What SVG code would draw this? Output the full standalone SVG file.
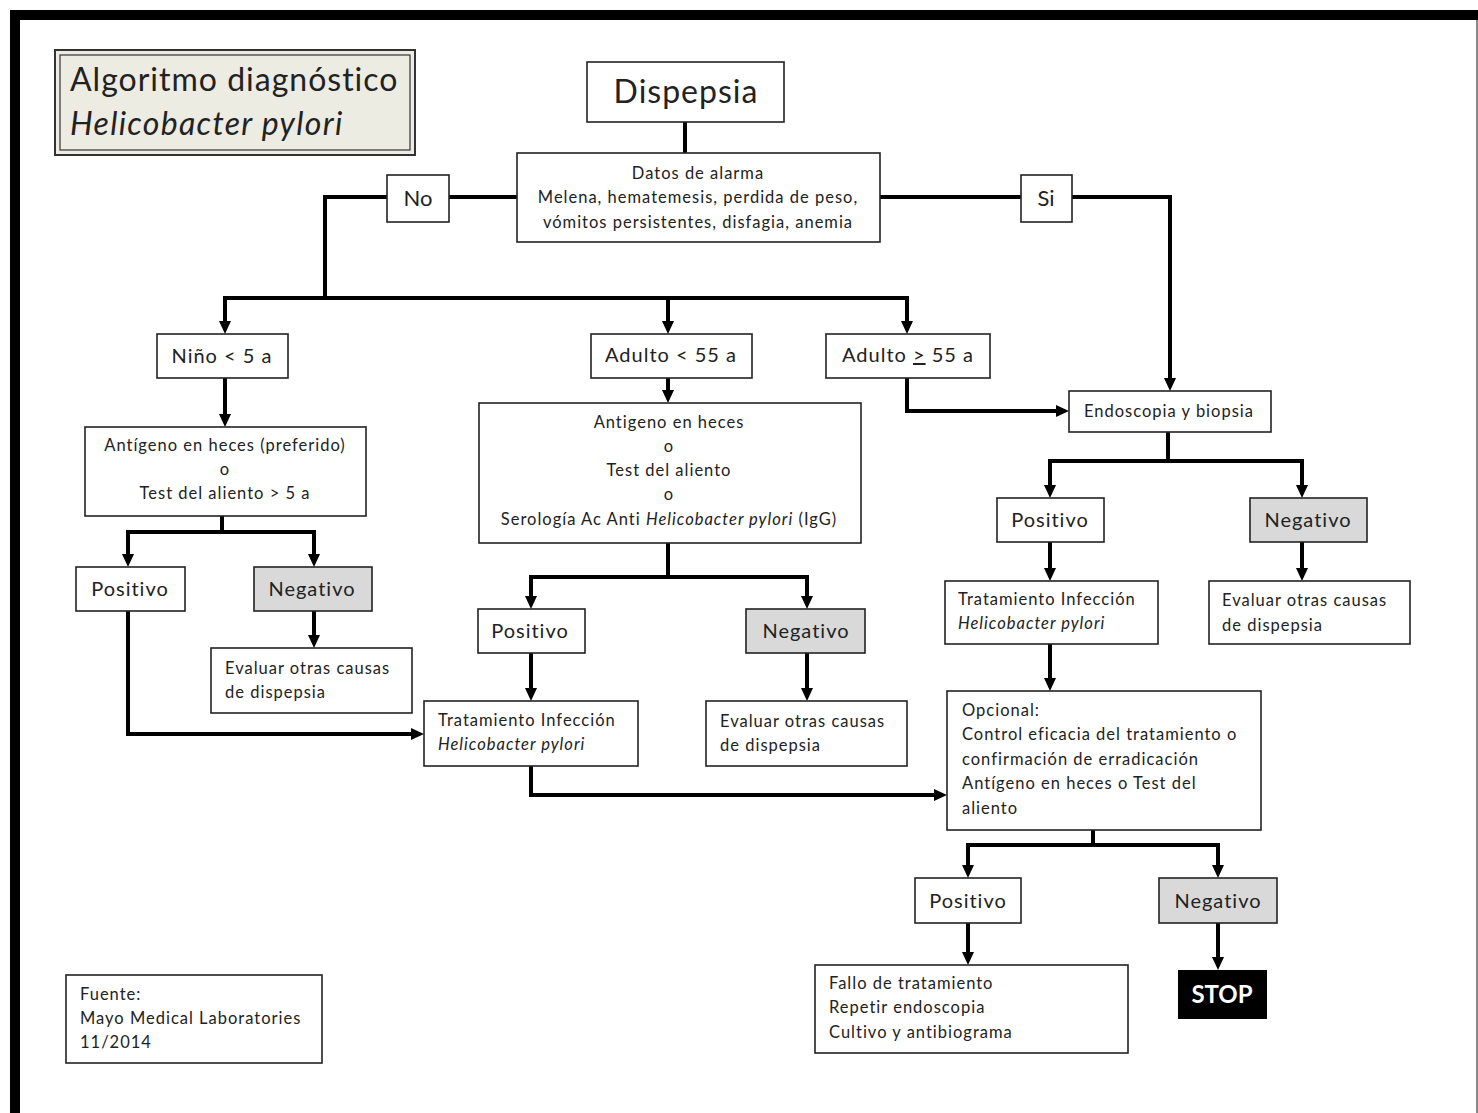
<svg xmlns="http://www.w3.org/2000/svg" width="1478" height="1113" viewBox="0 0 1478 1113">
<style>
.bx{fill:#fff;stroke:#222;stroke-width:1.6}
.gy{fill:#d9d9d9;stroke:#222;stroke-width:1.6}
.t{font-family:Lato,"Open Sans","Liberation Sans",sans-serif;fill:#222}
.s{font-size:16.5px;letter-spacing:1px}
.m{font-size:20px;letter-spacing:1px}
.c{text-anchor:middle}
.cn{fill:none;stroke:#000;stroke-width:4;stroke-linejoin:miter}
.ar{marker-end:url(#ah)}
</style>
<defs>
<marker id="ah" markerUnits="userSpaceOnUse" markerWidth="14" markerHeight="14" viewBox="0 0 14 14" refX="5" refY="7" orient="auto">
<path d="M0,1 L13,7 L0,13 z" fill="#000"/>
</marker>
</defs>
<rect x="0" y="0" width="1478" height="1113" fill="#fff"/>
<g id="frame">
<path d="M10,15 H1478" stroke="#000" stroke-width="10"/>
<path d="M15,10 V1113" stroke="#000" stroke-width="10"/>
<path d="M1477,20 V1113" stroke="#888" stroke-width="2"/>
</g>
<g id="connectors">
<path class="cn" d="M685,122 V153"/>
<path class="cn" d="M517,197 H449"/>
<path class="cn" d="M387,197 H325 V298"/>
<path class="cn ar" d="M325,298 H225 V326"/>
<path class="cn ar" d="M325,298 H907 V326"/>
<path class="cn ar" d="M668,298 V326"/>
<path class="cn" d="M880,197 H1021"/>
<path class="cn ar" d="M1072,197 H1170 V383"/>
<path class="cn ar" d="M225,378 V419"/>
<path class="cn" d="M222,516 V532"/>
<path class="cn ar" d="M222,532 H128 V559"/>
<path class="cn ar" d="M222,532 H314 V559"/>
<path class="cn ar" d="M314,611 V640"/>
<path class="cn ar" d="M128,611 V734 H416"/>
<path class="cn ar" d="M668,378 V395"/>
<path class="cn" d="M668,543 V577"/>
<path class="cn ar" d="M668,577 H531 V601"/>
<path class="cn ar" d="M668,577 H807 V601"/>
<path class="cn ar" d="M531,653 V693"/>
<path class="cn ar" d="M807,653 V693"/>
<path class="cn ar" d="M531,766 V795 H939"/>
<path class="cn ar" d="M907,378 V411 H1061"/>
<path class="cn" d="M1168,432 V461"/>
<path class="cn ar" d="M1168,461 H1050 V490"/>
<path class="cn ar" d="M1168,461 H1302 V490"/>
<path class="cn ar" d="M1050,542 V573"/>
<path class="cn ar" d="M1302,542 V573"/>
<path class="cn ar" d="M1050,644 V683"/>
<path class="cn" d="M1093,830 V845"/>
<path class="cn ar" d="M1093,845 H968 V870"/>
<path class="cn ar" d="M1093,845 H1218 V870"/>
<path class="cn ar" d="M968,923 V957"/>
<path class="cn ar" d="M1218,923 V962"/>
</g>
<g id="title">
<rect x="55" y="50" width="360" height="105" fill="#edece2" stroke="#333" stroke-width="2"/>
<rect x="60" y="55" width="350" height="95" fill="none" stroke="#333" stroke-width="1.2"/>
<text class="t" x="70" y="91" font-size="32" letter-spacing="1">Algoritmo diagnóstico</text>
<text class="t" x="70" y="135" font-size="32" font-style="italic" letter-spacing="1.3">Helicobacter pylori</text>
</g>
<g id="dispepsia">
<rect class="bx" x="587" y="62" width="197" height="60"/>
<text class="t c" x="686" y="103" font-size="32" letter-spacing="1">Dispepsia</text>
</g>
<g id="alarma">
<rect class="bx" x="517" y="153" width="363" height="89"/>
<text class="t s c" x="698" y="179">Datos de alarma</text>
<text class="t s c" x="698" y="203">Melena, hematemesis,  perdida de peso,</text>
<text class="t s c" x="698" y="228">vómitos persistentes, disfagia, anemia</text>
</g>
<g id="no">
<rect class="bx" x="387" y="175" width="62" height="47"/>
<text class="t c" x="418" y="206" font-size="22">No</text>
</g>
<g id="si">
<rect class="bx" x="1021" y="175" width="51" height="47"/>
<text class="t c" x="1046" y="206" font-size="22">Si</text>
</g>
<g id="nino">
<rect class="bx" x="157" y="334" width="131" height="44"/>
<text class="t m c" x="222" y="363">Niño &lt; 5 a</text>
</g>
<g id="adulto55">
<rect class="bx" x="591" y="334" width="161" height="44"/>
<text class="t m c" x="671" y="362">Adulto &lt; 55 a</text>
</g>
<g id="adultoge55">
<rect class="bx" x="826" y="334" width="164" height="44"/>
<text class="t m c" x="908" y="362">Adulto <tspan text-decoration="underline">&gt;</tspan> 55 a</text>
</g>
<g id="antigeno-nino">
<rect class="bx" x="85" y="427" width="281" height="89"/>
<text class="t s c" x="225" y="451">Antígeno  en  heces (preferido)</text>
<text class="t s c" x="225" y="475">o</text>
<text class="t s c" x="225" y="499">Test del aliento &gt; 5 a</text>
</g>
<g id="pos-nino">
<rect class="bx" x="76" y="567" width="109" height="44"/>
<text class="t m c" x="130" y="596">Positivo</text>
</g>
<g id="neg-nino">
<rect class="gy" x="254" y="567" width="118" height="44"/>
<text class="t m c" x="312" y="596">Negativo</text>
</g>
<g id="evaluar-nino">
<rect class="bx" x="211" y="648" width="201" height="65"/>
<text class="t s" x="225" y="674">Evaluar otras causas</text>
<text class="t s" x="225" y="698">de  dispepsia</text>
</g>
<g id="antigeno-adulto">
<rect class="bx" x="479" y="403" width="382" height="140"/>
<text class="t s c" x="669" y="428">Antigeno  en heces</text>
<text class="t s c" x="669" y="452">o</text>
<text class="t s c" x="669" y="476">Test del aliento</text>
<text class="t s c" x="669" y="500">o</text>
<text class="t s c" x="669" y="525">Serología Ac Anti <tspan font-style="italic">Helicobacter pylori</tspan> (IgG)</text>
</g>
<g id="pos-adulto">
<rect class="bx" x="478" y="609" width="107" height="44"/>
<text class="t m c" x="530" y="638">Positivo</text>
</g>
<g id="neg-adulto">
<rect class="gy" x="746" y="609" width="119" height="44"/>
<text class="t m c" x="806" y="638">Negativo</text>
</g>
<g id="tratamiento-adulto">
<rect class="bx" x="424" y="701" width="214" height="65"/>
<text class="t s" x="438" y="726">Tratamiento Infección</text>
<text class="t s" x="438" y="750" font-style="italic">Helicobacter pylori</text>
</g>
<g id="evaluar-adulto">
<rect class="bx" x="706" y="701" width="201" height="65"/>
<text class="t s" x="720" y="727">Evaluar otras causas</text>
<text class="t s" x="720" y="751">de dispepsia</text>
</g>
<g id="endoscopia">
<rect class="bx" x="1069" y="391" width="202" height="41"/>
<text class="t s c" x="1169" y="417">Endoscopia y biopsia</text>
</g>
<g id="pos-endo">
<rect class="bx" x="997" y="498" width="107" height="44"/>
<text class="t m c" x="1050" y="527">Positivo</text>
</g>
<g id="neg-endo">
<rect class="gy" x="1250" y="498" width="117" height="44"/>
<text class="t m c" x="1308" y="527">Negativo</text>
</g>
<g id="tratamiento-endo">
<rect class="bx" x="945" y="581" width="213" height="63"/>
<text class="t s" x="958" y="605">Tratamiento Infección</text>
<text class="t s" x="958" y="629" font-style="italic">Helicobacter pylori</text>
</g>
<g id="evaluar-endo">
<rect class="bx" x="1209" y="581" width="201" height="63"/>
<text class="t s" x="1222" y="606">Evaluar otras  causas</text>
<text class="t s" x="1222" y="631">de dispepsia</text>
</g>
<g id="opcional">
<rect class="bx" x="947" y="691" width="314" height="139"/>
<text class="t s" x="962" y="716">Opcional:</text>
<text class="t s" x="962" y="740">Control eficacia del tratamiento o</text>
<text class="t s" x="962" y="765">confirmación de erradicación</text>
<text class="t s" x="962" y="789">Antígeno  en  heces  o Test del</text>
<text class="t s" x="962" y="814">aliento</text>
</g>
<g id="pos-final">
<rect class="bx" x="915" y="878" width="106" height="45"/>
<text class="t m c" x="968" y="908">Positivo</text>
</g>
<g id="neg-final">
<rect class="gy" x="1159" y="878" width="118" height="45"/>
<text class="t m c" x="1218" y="908">Negativo</text>
</g>
<g id="fallo">
<rect class="bx" x="815" y="965" width="313" height="88"/>
<text class="t s" x="829" y="989">Fallo de tratamiento</text>
<text class="t s" x="829" y="1013">Repetir  endoscopia</text>
<text class="t s" x="829" y="1038">Cultivo y antibiograma</text>
</g>
<g id="stop">
<rect x="1178" y="970" width="89" height="49" fill="#000"/>
<text class="c" x="1222" y="1003" font-family="Lato,'Open Sans','Liberation Sans',sans-serif" font-size="24" font-weight="bold" fill="#fff">STOP</text>
</g>
<g id="fuente">
<rect class="bx" x="66" y="975" width="256" height="88"/>
<text class="t s" x="80" y="1000">Fuente:</text>
<text class="t s" x="80" y="1024">Mayo Medical Laboratories</text>
<text class="t s" x="80" y="1048">11/2014</text>
</g>
</svg>
